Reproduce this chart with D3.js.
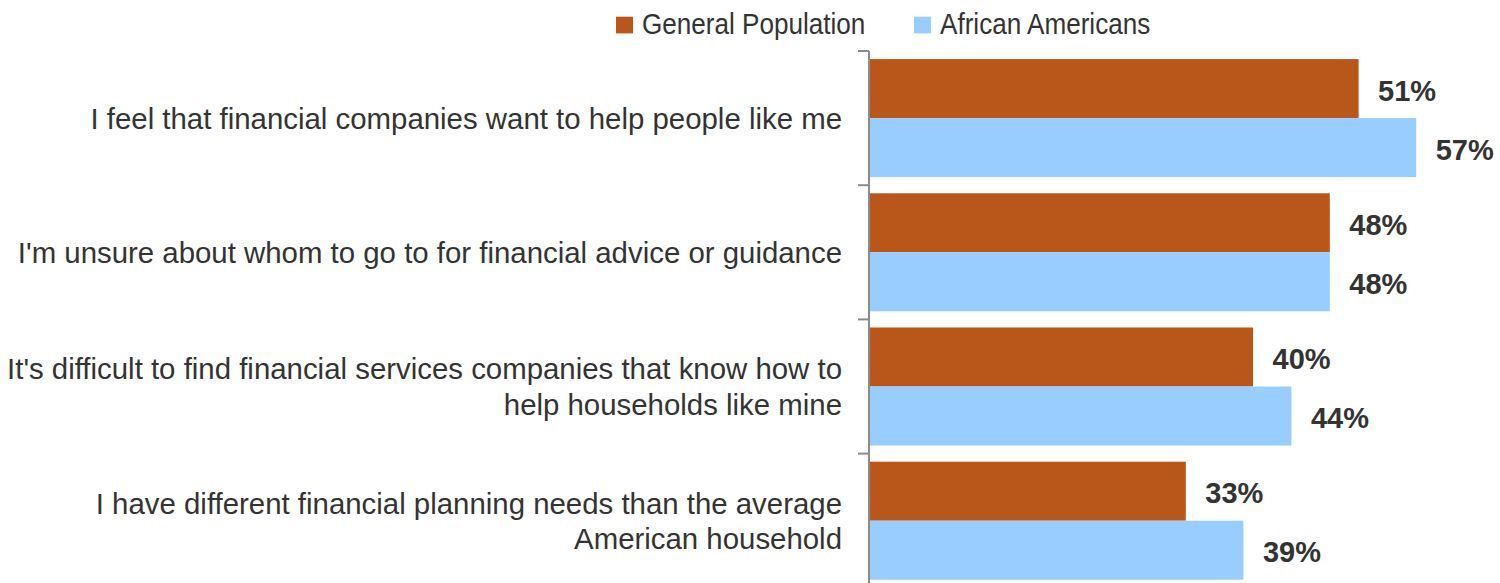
<!DOCTYPE html>
<html>
<head>
<meta charset="utf-8">
<script src="https://cdn.jsdelivr.net/npm/d3@7"></script>
<style>
  html, body { margin: 0; padding: 0; background: #fff; }
  svg { display: block; }
  text { font-family: "Liberation Sans", Arial, sans-serif; fill: #333; }
</style>
</head>
<body>
<svg id="chart" width="1500" height="583"></svg>
<script>
// Survey statements (each entry is the list of lines drawn for that row)
const categories = [
  ["I feel that financial companies want to help people like me"],
  ["I'm unsure about whom to go to for financial advice or guidance"],
  ["It's difficult to find financial services companies that know how to", "help households like mine"],
  ["I have different financial planning needs than the average", "American household"]
];
const seriesNames = ["General Population", "African Americans"];
const generalPopulation = [51, 48, 40, 33];
const africanAmericans = [57, 48, 44, 39];
const seriesColors = ["#B9571A", "#99CCFF"];

const svg = d3.select("#chart");
const W = 1500, H = 583;

const plot = { left: 869, top: 51, step: 134.2 };
const keys = categories.map((c, i) => "c" + i);
const rows = keys.map((k, i) => ({
  key: k,
  lines: categories[i],
  values: [generalPopulation[i], africanAmericans[i]]
}));

const x = d3.scaleLinear().domain([0, 60]).range([plot.left, plot.left + 576]);
const y0 = d3.scaleBand().domain(keys)
  .range([plot.top, plot.top + plot.step * keys.length]).padding(0);
const y1 = d3.scaleBand().domain(seriesNames)
  .range([0, y0.bandwidth()]).paddingInner(0).paddingOuter(0.137);

// Bars
const groups = svg.append("g").selectAll("g")
  .data(rows).join("g")
  .attr("transform", d => `translate(0,${y0(d.key)})`);

groups.selectAll("rect")
  .data(d => d.values.map((v, j) => ({ v, s: seriesNames[j], j })))
  .join("rect")
  .attr("x", x(0))
  .attr("y", d => y1(d.s))
  .attr("width", d => x(d.v) - x(0))
  .attr("height", y1.bandwidth())
  .attr("fill", d => seriesColors[d.j]);

// Value labels
groups.selectAll("text.val")
  .data(d => d.values.map((v, j) => ({ v, s: seriesNames[j], j })))
  .join("text")
  .attr("class", "val")
  .attr("x", d => x(d.v) + 19.5)
  .attr("y", d => y1(d.s) + y1.bandwidth() / 2 + 12)
  .attr("font-size", 29)
  .attr("font-weight", "bold")
  .text(d => d.v + "%");

// Category axis: vertical line with ticks between categories
const axisColor = "#8c8c8c";
const axisG = svg.append("g");
axisG.append("line")
  .attr("x1", plot.left).attr("x2", plot.left)
  .attr("y1", plot.top).attr("y2", H + 10)
  .attr("stroke", axisColor).attr("stroke-width", 2);
axisG.selectAll("line.tick")
  .data(keys.concat(["end"]))
  .join("line")
  .attr("class", "tick")
  .attr("x1", plot.left - 11).attr("x2", plot.left)
  .attr("y1", (d, i) => plot.top + i * y0.step())
  .attr("y2", (d, i) => plot.top + i * y0.step())
  .attr("stroke", axisColor).attr("stroke-width", 2);

// Category labels, right-aligned next to the axis
const lineH = 35.2;
const labels = svg.append("g").selectAll("text")
  .data(rows).join("text")
  .attr("text-anchor", "end")
  .attr("font-size", 29.4)
  .attr("transform", d => `translate(${plot.left - 27},${y0(d.key) + y0.bandwidth() / 2 + 10.5})`);
labels.selectAll("tspan")
  .data(d => d.lines.map((t, i) => ({ t, i, n: d.lines.length })))
  .join("tspan")
  .attr("x", 0)
  .attr("y", d => (d.i - (d.n - 1) / 2) * lineH)
  .text(d => d.t);

// Legend
const legendX = [616, 914];
const legend = svg.append("g").selectAll("g")
  .data(seriesNames).join("g")
  .attr("transform", (d, i) => `translate(${legendX[i]},0)`);
legend.append("rect")
  .attr("x", 0).attr("y", 16.7)
  .attr("width", 17).attr("height", 16.7)
  .attr("fill", (d, i) => seriesColors[i]);
legend.append("text")
  .attr("transform", "translate(26,34) scale(0.9,1)")
  .attr("font-size", 29)
  .text(d => d);
</script>
</body>
</html>
